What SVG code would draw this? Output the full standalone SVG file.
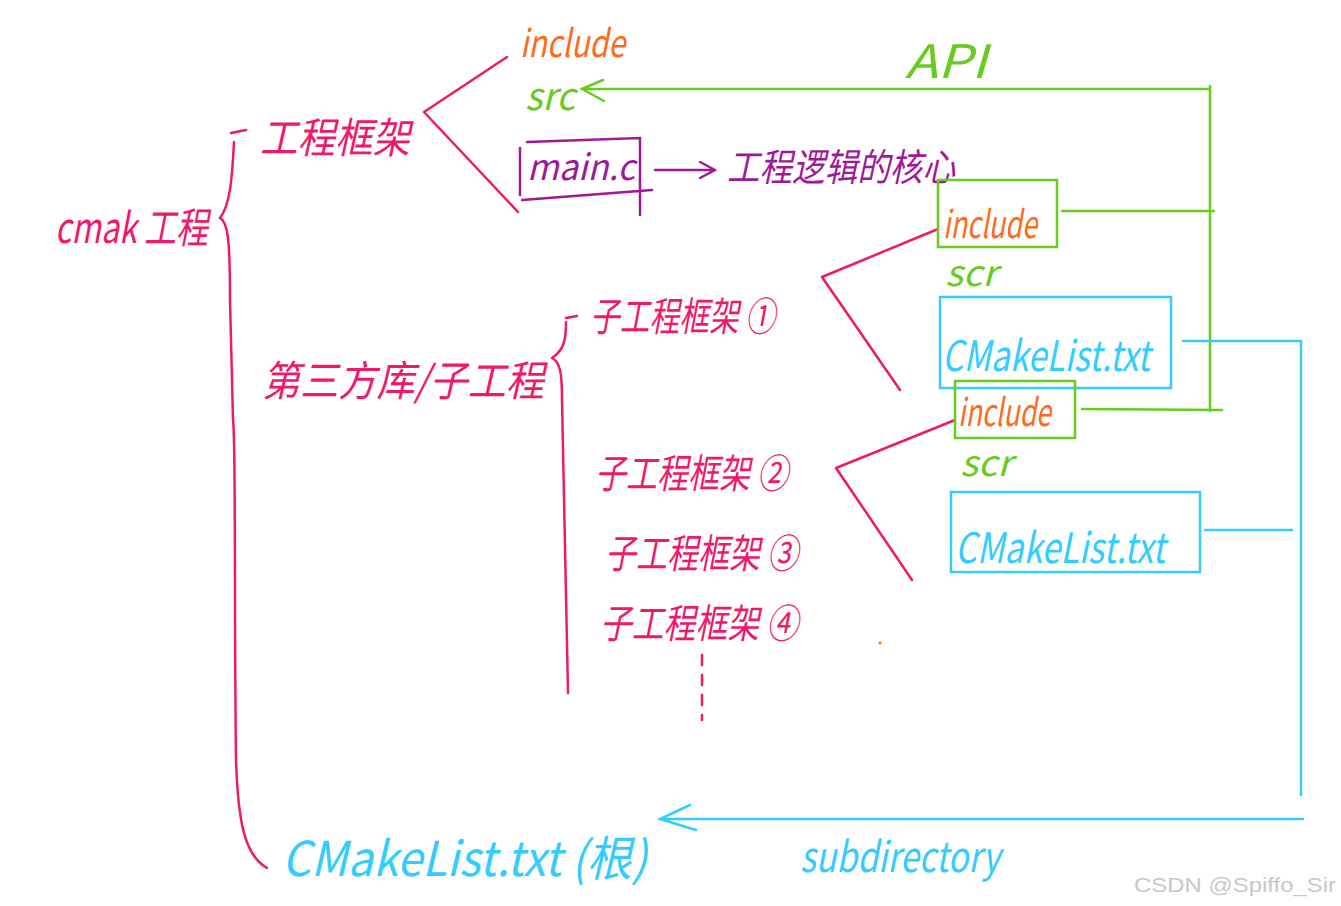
<svg xmlns="http://www.w3.org/2000/svg" width="1341" height="906" viewBox="0 0 1341 906">
<style>
  .t { font-family: "Noto Sans CJK SC", "Liberation Sans", sans-serif; font-weight: 400; font-style: italic; }
  .pk { fill: #f0186a; }
  .or { fill: #ff6a1c; }
  .gr { fill: #66cc1e; }
  .pu { fill: #a0189a; }
  .cy { fill: #33ccff; }
  .lpk { stroke: #f0186a; stroke-width: 2.5; fill: none; stroke-linecap: round; stroke-linejoin: round; }
  .lgr { stroke: #66cc1e; stroke-width: 2.5; fill: none; stroke-linecap: round; }
  .lpu { stroke: #a0189a; stroke-width: 2.5; fill: none; stroke-linecap: round; }
  .lcy { stroke: #33ccff; stroke-width: 2.5; fill: none; stroke-linecap: round; }
</style>
<rect width="1341" height="906" fill="#ffffff"/>

<g id="connectors">
  <path class="lpk" d="M231,133 L246,130 M234,142 C232,180 230,205 220,218 C228,222 230,240 230,300 L233,420 C236,440 234,600 236,760 C238,820 244,855 267,868"/>
  <path class="lpk" d="M566,318 L577,316 M566,322 C566,340 564,350 552,358 C560,362 562,372 562,400 L568,693"/>
  <path class="lpk" d="M507,57 L424,112 L518,212"/>
  <path class="lpk" d="M938,229 L822,277 L900,390"/>
  <path class="lpk" d="M955,420 L836,468 L912,580"/>
  <path class="lpk" d="M702,655 L702,720" stroke-dasharray="10,10" stroke-width="2"/>
  <path class="lpu" d="M655,170 L715,170 M700,162 L715,170 L700,178"/>
  <path class="lgr" d="M582,89 L1210,89 M603,80 L582,89 L604,101 M1210,86 L1210,411 M1062,211 L1214,211 M1082,409 L1222,410"/>
  <path class="lcy" d="M1183,341 L1301,341 L1301,795 M1205,530 L1292,530 M1303,819 L662,819 M690,805 L660,819 L696,830"/>
</g>

<g id="root">
  <text class="t pk" x="55" y="243" font-size="42" textLength="153" lengthAdjust="spacingAndGlyphs">cmak 工程</text>
</g>
<g id="framework">
  <text class="t pk" x="260" y="153" font-size="42" textLength="150" lengthAdjust="spacingAndGlyphs">工程框架</text>
</g>
<g id="include-top">
  <text class="t or" x="520" y="57" font-size="38" textLength="105" lengthAdjust="spacingAndGlyphs">include</text>
</g>
<g id="src-top">
  <text class="t gr" x="525" y="110" font-size="38" textLength="50" lengthAdjust="spacingAndGlyphs">src</text>
</g>
<g id="main-c">
  <path class="lpu" d="M520,148 L520,195 M527,142 L640,138 L640,215 M522,200 L652,190"/>
  <text class="t pu" x="527" y="180" font-size="36" textLength="108" lengthAdjust="spacingAndGlyphs">main.c</text>
</g>
<g id="logic-core">
  <text class="t pu" x="727" y="181" font-size="38" textLength="228" lengthAdjust="spacingAndGlyphs">工程逻辑的核心</text>
</g>
<g id="api">
  <text class="t gr" x="905" y="78" font-size="46" textLength="82" lengthAdjust="spacingAndGlyphs">API</text>
</g>
<g id="third-party">
  <text class="t pk" x="262" y="396" font-size="42" textLength="282" lengthAdjust="spacingAndGlyphs">第三方库/子工程</text>
</g>
<g id="sub1">
  <text class="t pk" x="590" y="331" font-size="40" textLength="185" lengthAdjust="spacingAndGlyphs">子工程框架 ①</text>
</g>
<g id="sub2">
  <text class="t pk" x="595" y="488" font-size="40" textLength="193" lengthAdjust="spacingAndGlyphs">子工程框架 ②</text>
</g>
<g id="sub3">
  <text class="t pk" x="605" y="568" font-size="40" textLength="193" lengthAdjust="spacingAndGlyphs">子工程框架 ③</text>
</g>
<g id="sub4">
  <text class="t pk" x="600" y="638" font-size="40" textLength="198" lengthAdjust="spacingAndGlyphs">子工程框架 ④</text>
</g>

<g id="sub1-include">
  <rect x="938" y="180" width="119" height="67" fill="none" stroke="#66cc1e" stroke-width="2.5"/>
  <text class="t or" x="943" y="238" font-size="38" textLength="94" lengthAdjust="spacingAndGlyphs">include</text>
</g>
<g id="sub1-scr">
  <text class="t gr" x="945" y="286" font-size="36" textLength="52" lengthAdjust="spacingAndGlyphs">scr</text>
</g>
<g id="sub1-cmake">
  <rect x="940" y="297" width="231" height="91" fill="none" stroke="#33ccff" stroke-width="2.5"/>
  <text class="t cy" x="942" y="371" font-size="42" textLength="208" lengthAdjust="spacingAndGlyphs">CMakeList.txt</text>
</g>
<g id="sub2-include">
  <rect x="955" y="381" width="120" height="57" fill="none" stroke="#66cc1e" stroke-width="2.5"/>
  <text class="t or" x="958" y="426" font-size="38" textLength="93" lengthAdjust="spacingAndGlyphs">include</text>
</g>
<g id="sub2-scr">
  <text class="t gr" x="960" y="476" font-size="36" textLength="52" lengthAdjust="spacingAndGlyphs">scr</text>
</g>
<g id="sub2-cmake">
  <rect x="951" y="492" width="249" height="80" fill="none" stroke="#33ccff" stroke-width="2.5"/>
  <text class="t cy" x="955" y="563" font-size="42" textLength="210" lengthAdjust="spacingAndGlyphs">CMakeList.txt</text>
</g>

<g id="root-cmake">
  <text class="t cy" x="282" y="876" font-size="48" textLength="365" lengthAdjust="spacingAndGlyphs">CMakeList.txt (根)</text>
</g>
<g id="subdirectory">
  <text class="t cy" x="800" y="872" font-size="42" textLength="200" lengthAdjust="spacingAndGlyphs">subdirectory</text>
</g>

<circle cx="880" cy="643" r="1.5" fill="#ff6a1c"/>
<text x="1134" y="892" font-family="Liberation Sans, sans-serif" font-size="21" fill="#c8c8c8" textLength="202" lengthAdjust="spacingAndGlyphs">CSDN @Spiffo_Sir</text>
</svg>
